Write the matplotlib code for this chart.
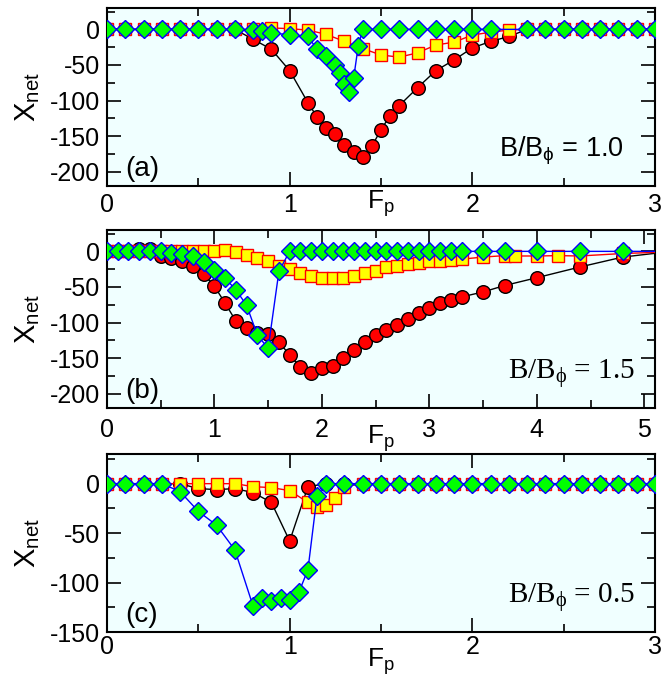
import matplotlib
matplotlib.use("Agg")
import matplotlib.pyplot as plt
from matplotlib.ticker import MultipleLocator

plt.rcParams['font.family'] = ['Liberation Sans', 'DejaVu Sans']
plt.rcParams['mathtext.fontset'] = 'custom'
plt.rcParams['mathtext.rm'] = 'Liberation Sans'
plt.rcParams['mathtext.it'] = 'Liberation Sans:italic'
plt.rcParams['mathtext.default'] = 'regular'
plt.rcParams['axes.unicode_minus'] = False

# ---------------- data: panel (a)  B/Bphi = 1.0 ----------------
xa_circ = [0.0, 0.1, 0.2, 0.3, 0.4, 0.5, 0.6, 0.7, 0.8, 0.9, 1.0, 1.1, 1.15, 1.2, 1.25, 1.3,
           1.35, 1.4, 1.45, 1.5, 1.55, 1.6, 1.7, 1.8, 1.9, 2.0, 2.1, 2.2, 2.3, 2.4, 2.5, 2.6,
           2.7, 2.8, 2.9, 3.0]
ya_circ = [0, 0, 0, 0, 0, 0, 0, 0, -14, -28, -58, -103, -123, -138, -147, -162,
           -172, -179, -164, -141, -121, -107, -82, -58, -43, -26, -17, -10, 0, 0, 0, 0,
           0, 0, 0, 0]
xa_sq = [0.0, 0.1, 0.2, 0.3, 0.4, 0.5, 0.6, 0.7, 0.8, 0.9, 1.0, 1.1, 1.2, 1.3, 1.4, 1.5,
         1.6, 1.7, 1.8, 1.9, 2.0, 2.1, 2.2, 2.3, 2.4, 2.5, 2.6, 2.7, 2.8, 2.9, 3.0]
ya_sq = [0, 0, 0, 0, 0, 0, 0, 0, 0, 2, 1, -1, -7, -17, -27, -36,
         -39, -33, -22, -18, -8, -4, -1, 0, 0, 0, 0, 0, 0, 0, 0]
xa_dia = [0.0, 0.1, 0.2, 0.3, 0.4, 0.5, 0.6, 0.7, 0.8, 0.85, 0.9, 1.0, 1.1, 1.15, 1.2, 1.25,
          1.275, 1.3, 1.325, 1.35, 1.375, 1.4, 1.5, 1.6, 1.7, 1.8, 1.9, 2.0, 2.1, 2.3, 2.4,
          2.5, 2.6, 2.7, 2.8, 2.9, 3.0]
ya_dia = [0, 0, 0, 0, 0, 0, 0, 0, -1.5, -2.5, -4.5, -8, -10, -28, -38, -50,
          -61, -77, -88, -69, -24, 0, 0, 0, 0, 0, 0, 0, 0, 0, 0,
          0, 0, 0, 0, 0, 0]

# ---------------- data: panel (b)  B/Bphi = 1.5 ----------------
xb_circ = [0.0, 0.1, 0.2, 0.3, 0.4, 0.5, 0.6, 0.7, 0.8, 0.9, 1.0, 1.1, 1.2, 1.3, 1.4, 1.5,
           1.6, 1.7, 1.8, 1.9, 2.0, 2.1, 2.2, 2.3, 2.4, 2.5, 2.6, 2.7, 2.8, 2.9, 3.0, 3.1,
           3.2, 3.3, 3.5, 3.7, 4.0, 4.4, 4.8, 5.2]
yb_circ = [0, 0, 1, 3, 4, -6, -9, -14, -21, -32, -49, -73, -98, -107, -114, -116,
           -128, -145, -163, -171, -164, -161, -150, -139, -128, -118, -110, -103, -95, -87, -79, -73,
           -68, -64, -57, -48, -37, -22, -8, -1]
xb_sq = [0.0, 0.1, 0.2, 0.3, 0.4, 0.5, 0.6, 0.7, 0.8, 0.9, 1.0, 1.1, 1.2, 1.3, 1.4, 1.5,
         1.6, 1.7, 1.8, 1.9, 2.0, 2.1, 2.2, 2.3, 2.4, 2.5, 2.6, 2.7, 2.8, 2.9, 3.0, 3.1,
         3.2, 3.3, 3.5, 3.7, 3.8, 4.0, 4.2, 4.4, 4.8, 5.2]
yb_sq = [0, 0, 0, 0, 0, 0, 0, 0, 0, 0, 0, 2, -1, -5, -9, -14,
         -21, -25, -30, -34, -38, -38, -37, -34, -31, -27, -22, -20, -18, -16, -14, -13,
         -12, -11, -8, -6, -6.5, -6.5, -6, -6.5, -3, -1]
xb_dia = [0.0, 0.1, 0.2, 0.3, 0.4, 0.5, 0.6, 0.7, 0.8, 0.9, 1.0, 1.1, 1.2, 1.3, 1.4, 1.5,
          1.6, 1.7, 1.8, 1.9, 2.0, 2.1, 2.2, 2.3, 2.4, 2.5, 2.6, 2.7, 2.8, 2.9, 3.0, 3.1,
          3.2, 3.3, 3.5, 3.7, 4.0, 4.4, 4.8, 5.2]
yb_dia = [0, 0, 0, 0, 0, 0, -3, -4, -7, -15, -26, -38, -54, -76, -118, -136,
          -28, 0, 0, 0, 0, 0, 0, 0, 0, 0, 0, 0, 0, 0, 0, 0,
          0, 0, 0, 0, 0, 0, 0, 0]

# ---------------- data: panel (c)  B/Bphi = 0.5 ----------------
xc_circ = [0.0, 0.1, 0.2, 0.3, 0.4, 0.5, 0.6, 0.7, 0.8, 0.9, 1.0, 1.1, 1.2, 1.3, 1.4, 1.5,
           1.6, 1.7, 1.8, 1.9, 2.0, 2.1, 2.2, 2.3, 2.4, 2.5, 2.6, 2.7, 2.8, 2.9, 3.0]
yc_circ = [0, 0, 0, 0, 0, -5, -6, -5, -9, -19, -58, -3, 0, 0, 0, 0,
           0, 0, 0, 0, 0, 0, 0, 0, 0, 0, 0, 0, 0, 0, 0]
xc_sq = [0.0, 0.1, 0.2, 0.3, 0.4, 0.5, 0.6, 0.7, 0.8, 0.9, 1.0, 1.1, 1.15, 1.2, 1.25, 1.3,
         1.4, 1.5, 1.6, 1.7, 1.8, 1.9, 2.0, 2.1, 2.2, 2.3, 2.4, 2.5, 2.6, 2.7, 2.8, 2.9, 3.0]
yc_sq = [0, 0, 0, 0, 0, 0, 0, 0, -3, -4, -7, -19, -24, -22, -14, -3,
         0, 0, 0, 0, 0, 0, 0, 0, 0, 0, 0, 0, 0, 0, 0, 0, 0]
xc_dia = [0.0, 0.1, 0.2, 0.3, 0.4, 0.5, 0.6, 0.7, 0.8, 0.85, 0.9, 0.95, 1.0, 1.05, 1.1, 1.15,
          1.2, 1.3, 1.4, 1.5, 1.6, 1.7, 1.8, 1.9, 2.0, 2.1, 2.2, 2.3, 2.4, 2.5, 2.6, 2.7,
          2.8, 2.9, 3.0]
yc_dia = [0, 0, 0, 0, -8, -28, -42, -67, -124, -116, -119, -116, -118, -110, -87, -12,
          0, 0, 0, 0, 0, 0, 0, 0, 0, 0, 0, 0, 0, 0, 0, 0,
          0, 0, 0]

panel_labels = ['(a)', '(b)', '(c)']
field_labels = ['1.0', '1.5', '0.5']
xlims = [(0, 3), (0, 5.1), (0, 3)]
ylims = [(-220, 30), (-220, 30), (-150, 30)]
yticks = [[0, -50, -100, -150, -200], [0, -50, -100, -150, -200], [0, -50, -100, -150]]

BG = '#f0ffff'

fig = plt.figure(figsize=(6.63, 6.76), dpi=100)
W, H = 663.0, 676.0
left = 107 / W
width = 548 / W
height = 178 / H
bottoms = [(H - 186) / H, (H - 408) / H, (H - 632) / H]
tick_pads = [5, 7, 2.5]
xlabel_y = [-0.011, -0.084, -0.078]

data = [
    (xa_circ, ya_circ, xa_sq, ya_sq, xa_dia, ya_dia),
    (xb_circ, yb_circ, xb_sq, yb_sq, xb_dia, yb_dia),
    (xc_circ, yc_circ, xc_sq, yc_sq, xc_dia, yc_dia),
]

for i in range(3):
    ax = fig.add_axes([left, bottoms[i], width, height])
    ax.set_facecolor(BG)
    xc, yc, xs, ys, xd, yd = data[i]
    ax.plot(xc, yc, '-', color='black', lw=1.0, marker='o', ms=9.8,
            mfc='#ff0000', mec='black', mew=1.0, zorder=3)
    ax.plot(xs, ys, '-', color='#ff0000', lw=1.0, marker='s', ms=8.2,
            mfc='#ffff00', mec='#ff0000', mew=1.0, zorder=4)
    ax.plot(xd, yd, '-', color='#0000ff', lw=1.0, marker='D', ms=8.8,
            mfc='#00ff00', mec='#0000ff', mew=1.0, zorder=5)
    ax.set_xlim(*xlims[i])
    ax.set_ylim(*ylims[i])
    ax.set_yticks(yticks[i])
    ax.xaxis.set_major_locator(MultipleLocator(1))
    ax.xaxis.set_minor_locator(MultipleLocator(0.5))
    ax.yaxis.set_minor_locator(MultipleLocator(25))
    ax.tick_params(which='both', direction='in', top=True, right=True,
                   labelsize=18, width=1.2)
    ax.tick_params(which='major', length=10)
    ax.tick_params(which='minor', length=5.5)
    ax.tick_params(axis='x', which='major', pad=tick_pads[i])
    ax.tick_params(axis='y', which='major', pad=5)
    for sp in ax.spines.values():
        sp.set_linewidth(1.5)
    ax.set_xlabel('F$_p$', fontsize=19, va='top')
    ax.xaxis.set_label_coords(0.5, xlabel_y[i])
    ax.set_ylabel('X$_{net}$', fontsize=21)
    ax.yaxis.set_label_coords(-0.118, 0.5)
    ax.text(0.033, 0.055, panel_labels[i], transform=ax.transAxes,
            fontsize=20, ha='left', va='baseline')
    if i == 0:
        ax.text(0.943, 0.163, 'B/B$_{\\phi}$ = ' + field_labels[i],
                transform=ax.transAxes, fontsize=19.5, ha='right', va='baseline')
    else:
        ax.text(0.963, 0.163, 'B/B$_{\\phi}$ = ' + field_labels[i],
                transform=ax.transAxes, fontsize=21, ha='right', va='baseline',
                family=['Liberation Serif', 'DejaVu Serif'], math_fontfamily='stix')

fig.savefig('out.png', dpi=100)
